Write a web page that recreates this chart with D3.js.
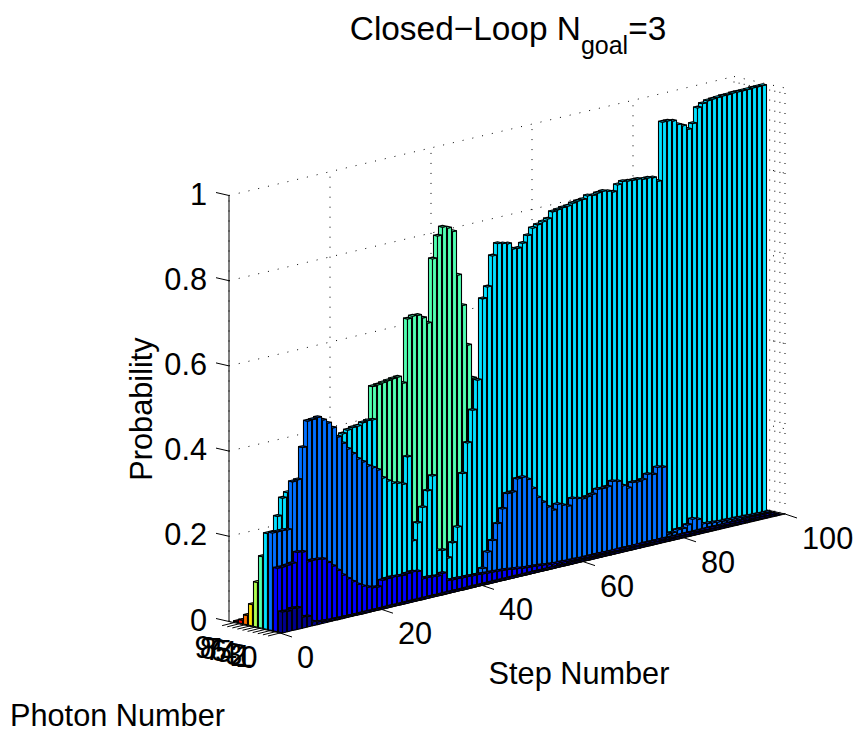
<!DOCTYPE html>
<html><head><meta charset="utf-8">
<script src="https://cdn.jsdelivr.net/npm/d3@7"></script>
<style>html,body{margin:0;padding:0;background:#fff}svg{display:block}text{font-family:"Liberation Sans",Arial,sans-serif;fill:#000}</style>
</head><body><svg id="c" width="858" height="735"></svg>
<script>
// P(photon number = row) for steps 0..99; trailing steps not listed are 0
const row0=[.049,.048,.051,.05,.026,.024,.009,.006,.004,.003,.002,.002,.001,.001,.001];
const row1=[.149,.149,.15,.152,.175,.173,.147,.148,.147,.145,.134,.123,.11,.096,.085,.075,.066,.059,.054,.05,.049,.062,.063,.064,.063,.062,.064,.065,.063,.043,.043,.042,.041,.045,.025,.024,.024,.023,.023,.022,.022,.021,.02,.02,.019,.018,.017,.015,.014,.012,.011,.01,.009,.008,.006,.005,.004,.004,.003,.003,.003,.002,.002,.002,.002,.002,.001,.001,.001,.001,.001,.001,.001,.001,.001,.001,.001,.001];
const row2=[.229,.229,.229,.228,.338,.34,.413,.472,.473,.475,.466,.456,.442,.418,.4,.384,.37,.355,.345,.333,.326,.318,.04,.04,.04,.04,.04,.04,.04,.03,.03,.03,.03,.03,.015,.012,.012,.012,.012,.012,.014,.015,.028,.064,.088,.125,.157,.19,.191,.219,.22,.212,.188,.164,.15,.136,.126,.137,.132,.127,.142,.139,.136,.138,.141,.15,.149,.15,.16,.157,.144,.136,.146,.145,.147,.157,.154,.168,.165,.005,.006,.01,.01,.016,.027,.023,.01,.008,.007,.006,.005,.005,.004,.004,.003,.003,.002,.002,.001,.001];
const row3=[.225,.225,.26,.3,.31,.31,.3,.27,.27,.28,.3,.32,.36,.4,.41,.417,.423,.426,.427,.432,.434,.433,.3,.291,.281,.273,.27,.265,.327,.127,.166,.2,.236,.268,.09,.088,.067,.1,.134,.257,.326,.4,.468,.656,.681,.751,.777,.774,.771,.756,.755,.764,.779,.794,.799,.803,.807,.821,.823,.825,.826,.83,.832,.833,.839,.837,.84,.841,.838,.834,.848,.853,.851,.85,.85,.847,.847,.845,.834,.97,.97,.967,.956,.95,.939,.95,.984,.991,.995,.996,.997,.998,.998,.999,.999,.999,.999,1,1,1];
const row4=[.168,.17,.16,.14,.12,.11,.1,.09,.08,.08,.08,.08,.08,.09,.09,.1,.1,.11,.11,.12,.13,.15,.506,.507,.509,.511,.513,.514,.497,.645,.649,.648,.639,.624,.772,.823,.841,.836,.825,.72,.646,.55,.47,.25,.21,.1,.05,.03,.03,.02,.02,.02,.02,.03,.02,.02,.02,.02,.02,.02,.01,.01,.01,.01,.01,.01,.01];
const row5=[.105,.1,.09,.08,.06,.05,.04,.04,.03,.03,.03,.03,.03,.03,.03,.02,.02,.02,.02,.02,.02,.03,.09,.09,.09,.08,.08,.08,.08,.12,.12,.12,.12,.12,.05,.03,.02,.02,.01,.01,.01];
const row6=[.05,.04,.03,.02,.02,.01,.01,.01,.01];
const row7=[.022,.015,.01,.005,.004,.003];
const row8=[.008,.005,.003,.002,.001];
const row9=[.002,.001,.001];
const rows=[row0,row1,row2,row3,row4,row5,row6,row7,row8,row9];
const rowColors=["#00008f","#0000ff","#0070ff","#00e0ff","#50ffb0","#b0ff50","#ffe000","#ff7000","#ff0000","#800000"];
const stepTicks=[0,20,40,60,80,100];
const rowTicks=[0,1,2,3,4,5,6,7,8,9];
const probTicks=[0,.2,.4,.6,.8,1];
const probLabels=["0","0.2","0.4","0.6","0.8","1"];

const stepX=d3.scaleLinear().domain([0,100]).range([0,500]);
const axisX=d3.scaleLinear().domain([0,100]).range([0,505]);
const stepY=d3.scaleLinear().domain([0,100]).range([0,-119]);
const barRowX=d3.scaleLinear().domain([0,10]).range([0,-50]);
const rowX=d3.scaleLinear().domain([0,10]).range([0,-51]);
const rowY=d3.scaleLinear().domain([0,10]).range([0,-11.5]);
const zY=d3.scaleLinear().domain([0,1]).range([0,-426]);
function P(s,r,z){return [282.5+stepX(s)+barRowX(r), 632+stepY(s)+rowY(r)+zY(z)];}
function A(s,r,z){return [280+axisX(s)+rowX(r), 633+stepY(s)+rowY(r)+zY(z)];}

const svg=d3.select("#c");
const ln=(g,a,b)=>g.append("line").attr("x1",a[0]).attr("y1",a[1]).attr("x2",b[0]).attr("y2",b[1]);
const grid=svg.append("g").attr("stroke","#000").attr("stroke-width",1).attr("stroke-dasharray","1 9");
probTicks.forEach(z=>{ln(grid,A(0,10,z),A(100,10,z));ln(grid,A(100,10,z),A(100,0,z));});
stepTicks.forEach(s=>{ln(grid,A(s,10,0),A(s,10,1));ln(grid,A(s,0,0),A(s,10,0));});
rowTicks.forEach(r=>{ln(grid,A(100,r,0),A(100,r,1));ln(grid,A(0,r,0),A(100,r,0));});

const axis=svg.append("g").attr("stroke","#000").attr("stroke-width",1).attr("fill","none");
ln(axis,A(0,10,0),A(0,10,1));
ln(axis,A(0,0,0),A(100,0,0));
ln(axis,A(0,0,0),A(0,10,0));
ln(axis,A(100,10,0),A(100,0,0));

const faces=[];
const hw=.4;
d3.range(9,-1,-1).forEach(r=>{
  d3.range(99,-1,-1).forEach(s=>{
    const z=rows[r][s]??0, c=rowColors[r];
    const a=[s-hw,r-hw],b=[s+hw,r-hw],d=[s-hw,r+hw],e=[s+hw,r+hw];
    faces.push({c,pts:[P(...d,0),P(...a,0),P(...a,z),P(...d,z)]});
    faces.push({c,pts:[P(...a,0),P(...b,0),P(...b,z),P(...a,z)]});
    faces.push({c,pts:[P(...a,z),P(...b,z),P(...e,z),P(...d,z)]});
  });
});
svg.append("g").attr("stroke","#000").attr("stroke-width",1.1).attr("stroke-linejoin","round")
  .selectAll("polygon").data(faces).join("polygon")
  .attr("points",d=>d.pts.map(p=>p.join(",")).join(" "))
  .attr("fill",d=>d.c);

const tk=svg.append("g").attr("stroke","#000").attr("stroke-width",1);
probTicks.forEach(z=>{const p=A(0,10,z);ln(tk,p,[p[0]-13,p[1]-3]);});
stepTicks.forEach(s=>{const p=A(s,0,0);ln(tk,p,[p[0]+12,p[1]+4]);});
rowTicks.forEach(r=>{const p=A(0,r,0);ln(tk,p,[p[0]-12,p[1]+3]);});

const FS=30.7;
const lab=svg.append("g").attr("font-size",FS);
probTicks.forEach((z,i)=>{const p=A(0,10,z);lab.append("text").attr("x",207).attr("y",p[1]+9).attr("text-anchor","end").text(probLabels[i]);});
stepTicks.forEach(s=>{const p=A(s,0,0);lab.append("text").attr("x",p[0]+17).attr("y",p[1]+35).text(s);});
rowTicks.forEach(r=>{const p=A(0,r,0);lab.append("text").attr("x",p[0]-31).attr("y",p[1]+35).attr("text-anchor","middle").text(r);});
lab.append("text").attr("x",579).attr("y",684).attr("text-anchor","middle").text("Step Number");
lab.append("text").attr("x",10).attr("y",726).text("Photon Number");
lab.append("text").attr("transform","translate(151.5,409) rotate(-90)").attr("text-anchor","middle").text("Probability");
const t=lab.append("text").attr("x",508).attr("y",40).attr("text-anchor","middle").attr("font-size",33.4);
t.append("tspan").text("Closed\u2212Loop N");
t.append("tspan").attr("font-size",25).attr("dy",14).text("goal");
t.append("tspan").attr("dy",-14).text("=3");
</script></body></html>
